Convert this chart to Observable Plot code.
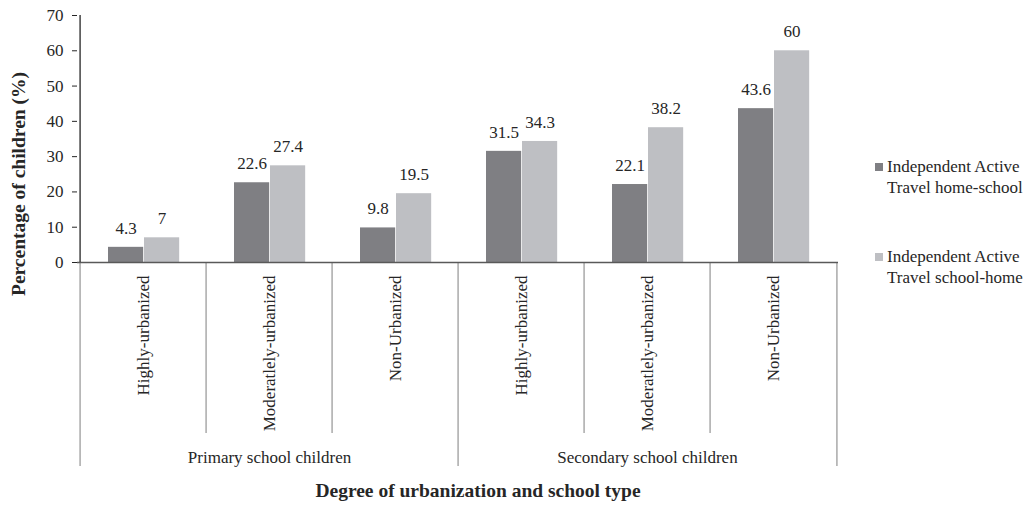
<!DOCTYPE html>
<html><head><meta charset="utf-8">
<script src="https://cdn.jsdelivr.net/npm/d3@7"></script>
<script src="https://cdn.jsdelivr.net/npm/@observablehq/plot@0.6"></script>
<style>
html,body{margin:0;padding:0;background:#fff;}
#wrap{position:relative;width:1027px;height:505px;font-family:"Liberation Serif","Times New Roman",serif;color:#262626;}
#legend{position:absolute;left:875px;top:156px;font-size:17px;line-height:21px;white-space:nowrap;}
.item{position:relative;padding-left:12px;margin-bottom:48px;}
.sw{position:absolute;left:0;top:7px;width:8px;height:8px;}
</style></head><body><div id="wrap"><div id="legend"></div></div>
<script>
// ---- data ----
const groups = ["Primary school children", "Secondary school children"];
const urbanization = ["Highly-urbanized", "Moderatlely-urbanized", "Non-Urbanized"];
const seriesNames = ["Independent Active Travel home-school", "Independent Active Travel school-home"];
const legendLines = [["Independent Active", "Travel home-school"], ["Independent Active", "Travel school-home"]];
const homeSchool = [4.3, 22.6, 9.8, 31.5, 22.1, 43.6];
const schoolHome = [7, 27.4, 19.5, 34.3, 38.2, 60];
const yTicks = [0, 10, 20, 30, 40, 50, 60, 70];
const yTitle = "Percentage of children (%)";
const xTitle = "Degree of urbanization and school type";
const colors = ["#7f7f83", "#bebfc3"];

// ---- derived tables ----
const cats = groups.flatMap(g => urbanization.map(u => g + "|" + u));
const catRows = cats.map((k, i) => ({key: k, group: k.split("|")[0], sub: k.split("|")[1], idx: i % urbanization.length}));
const rows1 = cats.map((k, i) => ({key: k, series: seriesNames[0], value: homeSchool[i]}));
const rows2 = cats.map((k, i) => ({key: k, series: seriesNames[1], value: schoolHome[i]}));
const groupRows = groups.map(g => ({group: g, key: g + "|" + urbanization[1]}));

const W = 1027, H = 505, ML = 77, MR = 189, MT = 15, MB = 243;
const bw = (W - ML - MR) / cats.length, half = bw / 2;

const chart = Plot.plot({
  width: W, height: H,
  marginLeft: ML, marginRight: MR, marginTop: MT, marginBottom: MB,
  style: {fontFamily: '"Liberation Serif","Times New Roman",serif', fontSize: "17px", color: "#262626", background: "#fff", overflow: "visible"},
  x: {domain: cats, axis: null, padding: 0},
  y: {domain: [0, 70], ticks: yTicks, tickSize: 5, tickPadding: 9, label: null},
  color: {domain: seriesNames, range: colors},
  marks: [
    Plot.barY(rows1, {x: "key", y: "value", fill: "series", insetLeft: 28, insetRight: bw - 64}),
    Plot.barY(rows2, {x: "key", y: "value", fill: "series", insetLeft: 64, insetRight: bw - 100}),
    Plot.text(rows1, {x: "key", y: "value", text: d => String(d.value), dx: -half + 46, dy: -19, fontSize: 17}),
    Plot.text(rows2, {x: "key", y: "value", text: d => String(d.value), dx: -half + 82, dy: -19, fontSize: 17}),
    // inner category separators
    Plot.ruleX(catRows.filter(d => d.idx > 0), {x: "key", y1: 0, y2: 0, dx: -half, insetBottom: -171, stroke: "#a3a3a3", strokeWidth: 1.4}),
    // group separators
    Plot.ruleX(catRows.filter(d => d.idx === 0), {x: "key", y1: 0, y2: 0, dx: -half, insetBottom: -204, stroke: "#a3a3a3", strokeWidth: 1.4}),
    Plot.ruleX(catRows.slice(-1), {x: "key", y1: 0, y2: 0, dx: half, insetBottom: -204, stroke: "#a3a3a3", strokeWidth: 1.4}),
    // axis lines
    Plot.ruleY([0], {stroke: "#595959", strokeWidth: 1.5}),
    Plot.ruleX(catRows.slice(0, 1), {x: "key", y1: 0, y2: 70, dx: -half, stroke: "#262626", strokeWidth: 1.3}),
    // category labels
    Plot.text(catRows, {x: "key", text: "sub", frameAnchor: "bottom", rotate: -90, textAnchor: "end", lineAnchor: "middle", dy: 13, fontSize: 17}),
    // group labels
    Plot.text(groupRows, {x: "key", text: "group", frameAnchor: "bottom", textAnchor: "middle", lineAnchor: "middle", dy: 195, fontSize: 17}),
    // axis titles
    Plot.text([xTitle], {text: d => d, frameAnchor: "bottom", textAnchor: "middle", lineAnchor: "middle", dx: 20, dy: 228, fontWeight: "bold", fontSize: 19.5}),
    Plot.text([yTitle], {text: d => d, frameAnchor: "left", textAnchor: "middle", lineAnchor: "middle", rotate: -90, dx: -59, dy: 45, fontWeight: "bold", fontSize: 19.5})
  ]
});
document.getElementById("wrap").prepend(chart);

// legend
const leg = document.getElementById("legend");
seriesNames.forEach((s, i) => {
  const it = document.createElement("div");
  it.className = "item";
  const sw = document.createElement("span");
  sw.className = "sw";
  sw.style.background = colors[i];
  it.appendChild(sw);
  legendLines[i].forEach(t => { const l = document.createElement("div"); l.textContent = t; it.appendChild(l); });
  leg.appendChild(it);
});
</script></body></html>
